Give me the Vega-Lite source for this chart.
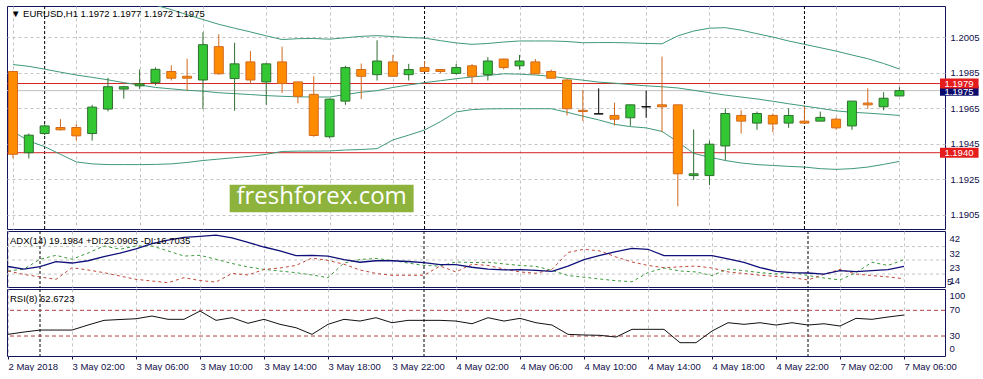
{
"$schema": "https://vega.github.io/schema/vega-lite/v6.json",
"background": "white",
"padding": {"left": 4, "top": 5, "right": 0, "bottom": 0},
"bounds": "flush",
"spacing": 2,
"config": {
  "view": {"stroke": "#14145a", "strokeWidth": 1},
  "font": "Liberation Sans",
  "axis": {"labelFont": "Liberation Sans", "labelFontSize": 9.5, "labelColor": "#10104a", "gridColor": "#c4c4c4", "gridDash": [3, 3], "gridWidth": 1, "domain": false, "ticks": false, "labelOverlap": false, "labelBound": false},
  "title": {"font": "Liberation Sans", "fontSize": 9.5, "fontWeight": "normal", "color": "#000000", "anchor": "start", "frame": "group"}
},
"datasets": {
  "seps": [{"i": 2}, {"i": 26}, {"i": 50}],
  "levels": [{"p": 1.1979, "lab": "1.1979"}, {"p": 1.194, "lab": "1.1940"}],
  "bid": [{"p": 1.1975, "lab": "1.1975"}],
  "candles": [
    {"i":0,"o":1.19858,"h":1.19862,"l":1.19369,"c":1.19391},
    {"i":1,"o":1.194,"h":1.19508,"l":1.19368,"c":1.19499},
    {"i":2,"o":1.19508,"h":1.1956,"l":1.195,"c":1.19551},
    {"i":3,"o":1.19542,"h":1.19589,"l":1.19525,"c":1.19529},
    {"i":4,"o":1.19542,"h":1.19562,"l":1.19468,"c":1.19495},
    {"i":5,"o":1.19508,"h":1.1967,"l":1.19468,"c":1.19657},
    {"i":6,"o":1.19646,"h":1.19822,"l":1.19633,"c":1.19772},
    {"i":7,"o":1.19759,"h":1.19777,"l":1.19705,"c":1.19772},
    {"i":8,"o":1.19777,"h":1.1987,"l":1.19759,"c":1.19788},
    {"i":9,"o":1.19795,"h":1.19881,"l":1.1978,"c":1.1987},
    {"i":10,"o":1.19858,"h":1.19892,"l":1.19807,"c":1.1982},
    {"i":11,"o":1.19831,"h":1.1993,"l":1.1975,"c":1.1982},
    {"i":12,"o":1.1981,"h":1.20079,"l":1.19646,"c":1.20009},
    {"i":13,"o":1.19998,"h":1.20068,"l":1.1984,"c":1.19845},
    {"i":14,"o":1.19818,"h":1.2002,"l":1.19637,"c":1.19901},
    {"i":15,"o":1.19912,"h":1.19973,"l":1.1979,"c":1.1981},
    {"i":16,"o":1.19799,"h":1.19905,"l":1.1967,"c":1.19901},
    {"i":17,"o":1.19912,"h":1.19998,"l":1.19737,"c":1.1979},
    {"i":18,"o":1.19799,"h":1.198,"l":1.19678,"c":1.19718},
    {"i":19,"o":1.19729,"h":1.19831,"l":1.1949,"c":1.19497},
    {"i":20,"o":1.1949,"h":1.19705,"l":1.19481,"c":1.19702},
    {"i":21,"o":1.19691,"h":1.1989,"l":1.1967,"c":1.1988},
    {"i":22,"o":1.19869,"h":1.19903,"l":1.19702,"c":1.19831},
    {"i":23,"o":1.1984,"h":1.20034,"l":1.19807,"c":1.19917},
    {"i":24,"o":1.19912,"h":1.19951,"l":1.1983,"c":1.19831},
    {"i":25,"o":1.1984,"h":1.19901,"l":1.19807,"c":1.19869},
    {"i":26,"o":1.1988,"h":1.19917,"l":1.19855,"c":1.19858},
    {"i":27,"o":1.19869,"h":1.1987,"l":1.19849,"c":1.19858},
    {"i":28,"o":1.19847,"h":1.19901,"l":1.1984,"c":1.1988},
    {"i":29,"o":1.1989,"h":1.199,"l":1.1979,"c":1.19831},
    {"i":30,"o":1.1984,"h":1.19939,"l":1.19807,"c":1.19917},
    {"i":31,"o":1.19928,"h":1.1993,"l":1.19869,"c":1.1988},
    {"i":32,"o":1.1989,"h":1.19951,"l":1.19869,"c":1.19917},
    {"i":33,"o":1.19912,"h":1.19928,"l":1.19843,"c":1.19845},
    {"i":34,"o":1.19858,"h":1.19869,"l":1.1982,"c":1.1982},
    {"i":35,"o":1.1981,"h":1.19817,"l":1.1961,"c":1.19648},
    {"i":36,"o":1.19639,"h":1.19754,"l":1.19579,"c":1.19632},
    {"i":37,"o":1.19619,"h":1.19763,"l":1.19619,"c":1.19619},
    {"i":38,"o":1.1961,"h":1.19682,"l":1.19553,"c":1.19589},
    {"i":39,"o":1.19597,"h":1.1967,"l":1.19551,"c":1.1967},
    {"i":40,"o":1.19659,"h":1.1975,"l":1.19597,"c":1.19659},
    {"i":41,"o":1.1967,"h":1.19942,"l":1.19516,"c":1.19659},
    {"i":42,"o":1.1967,"h":1.1967,"l":1.19098,"c":1.19281},
    {"i":43,"o":1.19271,"h":1.19531,"l":1.19247,"c":1.19281},
    {"i":44,"o":1.19271,"h":1.19468,"l":1.19217,"c":1.19448},
    {"i":45,"o":1.19438,"h":1.1965,"l":1.19357,"c":1.19621},
    {"i":46,"o":1.1961,"h":1.19639,"l":1.19508,"c":1.19578},
    {"i":47,"o":1.19567,"h":1.19632,"l":1.19529,"c":1.19621},
    {"i":48,"o":1.1961,"h":1.19621,"l":1.19516,"c":1.19562},
    {"i":49,"o":1.19567,"h":1.1965,"l":1.1954,"c":1.1961},
    {"i":50,"o":1.19578,"h":1.19659,"l":1.19567,"c":1.19567},
    {"i":51,"o":1.19578,"h":1.19632,"l":1.19578,"c":1.19599},
    {"i":52,"o":1.19589,"h":1.19599,"l":1.19529,"c":1.1954},
    {"i":53,"o":1.19551,"h":1.19691,"l":1.19529,"c":1.19691},
    {"i":54,"o":1.1968,"h":1.19763,"l":1.19648,"c":1.1967},
    {"i":55,"o":1.19659,"h":1.19741,"l":1.19639,"c":1.19707},
    {"i":56,"o":1.1972,"h":1.1977,"l":1.1972,"c":1.1975}
  ],
  "bb": [
    {"i":0,"mid":1.19897,"lo":1.1952},{"i":1,"mid":1.19887,"lo":1.19466},{"i":2,"mid":1.19871,"lo":1.19434},{"i":3,"mid":1.19854,"lo":1.19391},
    {"i":4,"mid":1.19838,"lo":1.19348},{"i":5,"mid":1.19825,"lo":1.19337},{"i":6,"mid":1.19811,"lo":1.19333},{"i":7,"mid":1.19795,"lo":1.19333},
    {"i":8,"up":1.20253,"mid":1.19782,"lo":1.19333},{"i":9,"up":1.20232,"mid":1.19768,"lo":1.19334},{"i":10,"up":1.20207,"mid":1.1976,"lo":1.19337},
    {"i":11,"up":1.20178,"mid":1.19752,"lo":1.19345},{"i":12,"up":1.20151,"mid":1.19747,"lo":1.19356},{"i":13,"up":1.20124,"mid":1.19738,"lo":1.19364},
    {"i":14,"up":1.20102,"mid":1.19733,"lo":1.19372},{"i":15,"up":1.20081,"mid":1.19728,"lo":1.1938},{"i":16,"up":1.20059,"mid":1.19722,"lo":1.19391},
    {"i":17,"up":1.20038,"mid":1.19718,"lo":1.19407},{"i":18,"up":1.20043,"mid":1.19715,"lo":1.19409},{"i":19,"up":1.20044,"mid":1.19714,"lo":1.19409},
    {"i":20,"up":1.2004,"mid":1.19714,"lo":1.1941},{"i":21,"up":1.20048,"mid":1.19728,"lo":1.19415},{"i":22,"up":1.20056,"mid":1.19741,"lo":1.19418},
    {"i":23,"up":1.2006,"mid":1.1975,"lo":1.19423},{"i":24,"up":1.20055,"mid":1.19768,"lo":1.19472},{"i":25,"up":1.20049,"mid":1.19782,"lo":1.19499},
    {"i":26,"up":1.20046,"mid":1.19795,"lo":1.19528},{"i":27,"up":1.20032,"mid":1.19806,"lo":1.19575},{"i":28,"up":1.20019,"mid":1.19817,"lo":1.1963},
    {"i":29,"up":1.20011,"mid":1.19827,"lo":1.19643},{"i":30,"up":1.20016,"mid":1.19835,"lo":1.19647},{"i":31,"up":1.20024,"mid":1.19845,"lo":1.19648},
    {"i":32,"up":1.2003,"mid":1.19843,"lo":1.19648},{"i":33,"up":1.2003,"mid":1.19838,"lo":1.19648},{"i":34,"up":1.2003,"mid":1.19831,"lo":1.19648},
    {"i":35,"up":1.20027,"mid":1.19819,"lo":1.19628},{"i":36,"up":1.2002,"mid":1.19809,"lo":1.19606},{"i":37,"up":1.20021,"mid":1.19798,"lo":1.19585},
    {"i":38,"up":1.20021,"mid":1.19792,"lo":1.1956},{"i":39,"up":1.20019,"mid":1.19784,"lo":1.19547},{"i":40,"up":1.20016,"mid":1.19777,"lo":1.1954},
    {"i":41,"up":1.20014,"mid":1.19772,"lo":1.1952},{"i":42,"up":1.20059,"mid":1.19765,"lo":1.19461},{"i":43,"up":1.20086,"mid":1.19752,"lo":1.19396},
    {"i":44,"up":1.20102,"mid":1.19738,"lo":1.19375},{"i":45,"up":1.20105,"mid":1.19725,"lo":1.19356},{"i":46,"up":1.20091,"mid":1.19714,"lo":1.19342},
    {"i":47,"up":1.20071,"mid":1.19703,"lo":1.19333},{"i":48,"up":1.20052,"mid":1.1969,"lo":1.19328},{"i":49,"up":1.2003,"mid":1.19676,"lo":1.19323},
    {"i":50,"up":1.20011,"mid":1.19663,"lo":1.19319},{"i":51,"up":1.19992,"mid":1.1965,"lo":1.1931},{"i":52,"up":1.19973,"mid":1.19636,"lo":1.19306},
    {"i":53,"up":1.19951,"mid":1.19628,"lo":1.1931},{"i":54,"up":1.1993,"mid":1.19623,"lo":1.19319},{"i":55,"up":1.19903,"mid":1.19617,"lo":1.19334},
    {"i":56,"up":1.19872,"mid":1.1961,"lo":1.19351}
  ],
  "adx": [
    {"i":0,"adx":23.8,"pdi":20.8,"mdi":20.8},{"i":1,"adx":22.1,"pdi":22.1,"mdi":18.5},{"i":2,"adx":23.7,"pdi":28.6,"mdi":16.9},
    {"i":3,"adx":27.0,"pdi":31.2,"mdi":15.3},{"i":4,"adx":26.1,"pdi":28.6,"mdi":23.0},{"i":5,"adx":27.6,"pdi":32.7,"mdi":21.5},
    {"i":6,"adx":30.4,"pdi":37.4,"mdi":19.7},{"i":7,"adx":32.7,"pdi":35.2,"mdi":17.5},{"i":8,"adx":35.4,"pdi":37.4,"mdi":15.3},
    {"i":9,"adx":39.0,"pdi":37.4,"mdi":14.2},{"i":10,"adx":41.3,"pdi":34.1,"mdi":13.1},{"i":11,"adx":43.1,"pdi":30.7,"mdi":16.4},
    {"i":12,"adx":43.8,"pdi":31.2,"mdi":14.5},{"i":13,"adx":44.6,"pdi":28.6,"mdi":13.5},{"i":14,"adx":42.7,"pdi":25.8,"mdi":19.2},
    {"i":15,"adx":39.7,"pdi":23.5,"mdi":18.2},{"i":16,"adx":36.7,"pdi":21.9,"mdi":21.8},{"i":17,"adx":34.1,"pdi":20.8,"mdi":22.8},
    {"i":18,"adx":31.0,"pdi":19.7,"mdi":24.5},{"i":19,"adx":31.2,"pdi":18.2,"mdi":29.4},{"i":20,"adx":30.7,"pdi":16.4,"mdi":27.8},
    {"i":21,"adx":28.4,"pdi":26.1,"mdi":25.3},{"i":22,"adx":26.6,"pdi":28.4,"mdi":21.5},{"i":23,"adx":27.6,"pdi":29.1,"mdi":19.2},
    {"i":24,"adx":27.6,"pdi":27.8,"mdi":18.0},{"i":25,"adx":27.1,"pdi":26.1,"mdi":18.0},{"i":26,"adx":26.4,"pdi":24.5,"mdi":18.0},
    {"i":27,"adx":25.0,"pdi":24.1,"mdi":24.1},{"i":28,"adx":25.0,"pdi":26.8,"mdi":20.2},{"i":29,"adx":23.3,"pdi":26.4,"mdi":25.3},
    {"i":30,"adx":22.1,"pdi":26.6,"mdi":24.5},{"i":31,"adx":21.5,"pdi":25.5,"mdi":22.1},{"i":32,"adx":21.7,"pdi":24.5,"mdi":20.2},
    {"i":33,"adx":21.2,"pdi":23.9,"mdi":19.3},{"i":34,"adx":20.6,"pdi":21.2,"mdi":21.9},{"i":35,"adx":24.1,"pdi":17.8,"mdi":33.1},
    {"i":36,"adx":28.4,"pdi":16.7,"mdi":35.2},{"i":37,"adx":31.1,"pdi":15.5,"mdi":34.1},{"i":38,"adx":33.6,"pdi":14.4,"mdi":30.1},
    {"i":39,"adx":35.8,"pdi":13.7,"mdi":26.8},{"i":40,"adx":35.2,"pdi":19.8,"mdi":24.5},{"i":41,"adx":31.0,"pdi":22.8,"mdi":23.0},
    {"i":42,"adx":31.0,"pdi":20.8,"mdi":23.6},{"i":43,"adx":31.0,"pdi":20.2,"mdi":24.1},{"i":44,"adx":31.0,"pdi":17.8,"mdi":22.8},
    {"i":45,"adx":28.8,"pdi":22.1,"mdi":20.2},{"i":46,"adx":26.6,"pdi":21.0,"mdi":19.2},{"i":47,"adx":23.1,"pdi":19.8,"mdi":18.0},
    {"i":48,"adx":20.6,"pdi":18.8,"mdi":17.2},{"i":49,"adx":19.8,"pdi":20.0,"mdi":16.4},{"i":50,"adx":19.5,"pdi":17.8,"mdi":14.9},
    {"i":51,"adx":18.8,"pdi":16.2,"mdi":18.6},{"i":52,"adx":21.0,"pdi":14.9,"mdi":21.9},{"i":53,"adx":20.4,"pdi":19.8,"mdi":18.8},
    {"i":54,"adx":21.0,"pdi":26.6,"mdi":17.8},{"i":55,"adx":21.7,"pdi":24.5,"mdi":16.9},{"i":56,"adx":23.9,"pdi":28.3,"mdi":15.7}
  ],
  "rsi": [
    {"i":0,"rsi":32.6},{"i":1,"rsi":36.2},{"i":2,"rsi":39.3},{"i":3,"rsi":39.3},{"i":4,"rsi":39.3},{"i":5,"rsi":47.1},
    {"i":6,"rsi":54.4},{"i":7,"rsi":55.7},{"i":8,"rsi":56.9},{"i":9,"rsi":61.1},{"i":10,"rsi":56.0},{"i":11,"rsi":56.0},
    {"i":12,"rsi":68.9},{"i":13,"rsi":54.4},{"i":14,"rsi":58.5},{"i":15,"rsi":49.8},{"i":16,"rsi":56.0},{"i":17,"rsi":48.2},
    {"i":18,"rsi":42.9},{"i":19,"rsi":32.6},{"i":20,"rsi":48.2},{"i":21,"rsi":56.0},{"i":22,"rsi":53.3},{"i":23,"rsi":58.5},
    {"i":24,"rsi":50.7},{"i":25,"rsi":54.4},{"i":26,"rsi":54.4},{"i":27,"rsi":54.4},{"i":28,"rsi":53.3},{"i":29,"rsi":49.1},
    {"i":30,"rsi":58.5},{"i":31,"rsi":53.3},{"i":32,"rsi":57.5},{"i":33,"rsi":50.7},{"i":34,"rsi":47.1},{"i":35,"rsi":32.6},
    {"i":36,"rsi":31.6},{"i":37,"rsi":31.1},{"i":38,"rsi":28.4},{"i":39,"rsi":40.4},{"i":40,"rsi":40.4},{"i":41,"rsi":40.4},
    {"i":42,"rsi":19.6},{"i":43,"rsi":19.6},{"i":44,"rsi":37.8},{"i":45,"rsi":50.7},{"i":46,"rsi":48.2},{"i":47,"rsi":50.7},
    {"i":48,"rsi":47.1},{"i":49,"rsi":50.7},{"i":50,"rsi":47.1},{"i":51,"rsi":49.1},{"i":52,"rsi":45.6},{"i":53,"rsi":57.5},
    {"i":54,"rsi":56.0},{"i":55,"rsi":59.6},{"i":56,"rsi":62.7}
  ]
},
"vconcat": [
  {
    "width": 938, "height": 223,
    "title": {"text": "▼  EURUSD,H1  1.1972 1.1977 1.1972 1.1975", "offset": -13, "dx": 4},
    "layer": [
      {"data": {"name": "seps"}, "mark": {"type": "rule", "color": "#000000", "strokeDash": [3, 2], "strokeWidth": 1},
       "encoding": {"x": {"field": "i", "type": "quantitative", "title": null, "scale": {"domain": [-0.0625, 58.5625], "nice": false, "zero": false}, "axis": {"values": [0,2,4,6,8,10,12,14,16,18,20,22,24,26,28,30,32,34,36,38,40,42,44,46,48,50,52,54,56], "labels": false, "grid": true}}}},
      {"data": {"name": "bid"}, "mark": {"type": "rule", "color": "#c0c0c0", "strokeWidth": 1},
       "encoding": {"y": {"field": "p", "type": "quantitative", "title": null, "scale": {"domain": [1.18998, 1.20199], "nice": false, "zero": false}, "axis": {"orient": "right", "values": [1.1905, 1.1925, 1.1945, 1.1965, 1.1985, 1.2005], "format": ".4f", "grid": true, "labelPadding": 5, "labelOverlap": false}}}},
      {"data": {"name": "levels"}, "mark": {"type": "rule", "color": "#d42222", "strokeWidth": 1},
       "encoding": {"y": {"field": "p", "type": "quantitative", "title": null, "scale": {"domain": [1.18998, 1.20199], "nice": false, "zero": false}}}},
      {"data": {"name": "bb"}, "mark": {"type": "line", "color": "#3f9a78", "strokeWidth": 1, "clip": true},
       "encoding": {"x": {"field": "i", "type": "quantitative", "title": null, "scale": {"domain": [-0.0625, 58.5625], "nice": false, "zero": false}},
                    "y": {"field": "up", "type": "quantitative", "title": null, "scale": {"domain": [1.18998, 1.20199], "nice": false, "zero": false}}}},
      {"data": {"name": "bb"}, "mark": {"type": "line", "color": "#3f9a78", "strokeWidth": 1, "clip": true},
       "encoding": {"x": {"field": "i", "type": "quantitative", "title": null, "scale": {"domain": [-0.0625, 58.5625], "nice": false, "zero": false}},
                    "y": {"field": "mid", "type": "quantitative", "title": null, "scale": {"domain": [1.18998, 1.20199], "nice": false, "zero": false}}}},
      {"data": {"name": "bb"}, "mark": {"type": "line", "color": "#3f9a78", "strokeWidth": 1, "clip": true},
       "encoding": {"x": {"field": "i", "type": "quantitative", "title": null, "scale": {"domain": [-0.0625, 58.5625], "nice": false, "zero": false}},
                    "y": {"field": "lo", "type": "quantitative", "title": null, "scale": {"domain": [1.18998, 1.20199], "nice": false, "zero": false}}}},
      {"data": {"values": [{"t": "freshforex.com"}]}, "mark": {"type": "rect", "color": "#8db33d"},
       "encoding": {"x": {"datum": 13.69, "type": "quantitative", "title": null, "scale": {"domain": [-0.0625, 58.5625], "nice": false, "zero": false}},
                    "x2": {"datum": 25.31},
                    "y": {"datum": 1.1922, "type": "quantitative", "title": null, "scale": {"domain": [1.18998, 1.20199], "nice": false, "zero": false}},
                    "y2": {"datum": 1.19064}}},
      {"data": {"values": [{"t": "freshforex.com"}]}, "mark": {"type": "text", "color": "#ffffff", "font": "Open Sans", "fontSize": 24, "align": "center", "baseline": "middle", "dy": -1},
       "encoding": {"x": {"datum": 19.5, "type": "quantitative", "title": null, "scale": {"domain": [-0.0625, 58.5625], "nice": false, "zero": false}},
                    "y": {"datum": 1.19142, "type": "quantitative", "title": null, "scale": {"domain": [1.18998, 1.20199], "nice": false, "zero": false}},
                    "text": {"field": "t"}}},
      {"data": {"name": "candles"}, "mark": {"type": "rule", "strokeWidth": 1},
       "encoding": {"x": {"field": "i", "type": "quantitative", "title": null, "scale": {"domain": [-0.0625, 58.5625], "nice": false, "zero": false}},
                    "y": {"field": "l", "type": "quantitative", "title": null, "scale": {"domain": [1.18998, 1.20199], "nice": false, "zero": false}},
                    "y2": {"field": "h"},
                    "color": {"condition": [{"test": "datum.c == datum.o", "value": "#000000"}, {"test": "datum.c > datum.o", "value": "#2f6f2f"}], "value": "#d2691e"}}},
      {"data": {"name": "candles"}, "mark": {"type": "bar", "size": 9, "strokeWidth": 1, "orient": "vertical"},
       "encoding": {"x": {"field": "i", "type": "quantitative", "title": null, "scale": {"domain": [-0.0625, 58.5625], "nice": false, "zero": false}},
                    "y": {"field": "o", "type": "quantitative", "title": null, "scale": {"domain": [1.18998, 1.20199], "nice": false, "zero": false}},
                    "y2": {"field": "c"},
                    "fill": {"condition": [{"test": "datum.c == datum.o", "value": "#000000"}, {"test": "datum.c > datum.o", "value": "#33c733"}], "value": "#ff8c00"},
                    "stroke": {"condition": [{"test": "datum.c == datum.o", "value": "#000000"}, {"test": "datum.c > datum.o", "value": "#2f6f2f"}], "value": "#d2691e"}}},
      {"data": {"name": "bid"}, "mark": {"type": "bar", "orient": "horizontal", "size": 10, "color": "#0b0b6b"},
       "encoding": {"x": {"datum": 58.5625, "type": "quantitative", "title": null, "scale": {"domain": [-0.0625, 58.5625], "nice": false, "zero": false}},
                    "x2": {"datum": 61.0},
                    "y": {"field": "p", "type": "quantitative", "title": null, "scale": {"domain": [1.18998, 1.20199], "nice": false, "zero": false}}}},
      {"data": {"name": "bid"}, "mark": {"type": "text", "color": "#ffffff", "align": "left", "baseline": "middle", "fontSize": 9.5, "font": "Liberation Sans", "dy": 1},
       "encoding": {"x": {"datum": 58.84, "type": "quantitative", "title": null, "scale": {"domain": [-0.0625, 58.5625], "nice": false, "zero": false}},
                    "y": {"field": "p", "type": "quantitative", "title": null, "scale": {"domain": [1.18998, 1.20199], "nice": false, "zero": false}},
                    "text": {"field": "lab"}}},
      {"data": {"name": "levels"}, "mark": {"type": "bar", "orient": "horizontal", "size": 10, "color": "#e41c1c"},
       "encoding": {"x": {"datum": 58.5625, "type": "quantitative", "title": null, "scale": {"domain": [-0.0625, 58.5625], "nice": false, "zero": false}},
                    "x2": {"datum": 61.0},
                    "y": {"field": "p", "type": "quantitative", "title": null, "scale": {"domain": [1.18998, 1.20199], "nice": false, "zero": false}}}},
      {"data": {"name": "levels"}, "mark": {"type": "text", "color": "#ffffff", "align": "left", "baseline": "middle", "fontSize": 9.5, "font": "Liberation Sans"},
       "encoding": {"x": {"datum": 58.84, "type": "quantitative", "title": null, "scale": {"domain": [-0.0625, 58.5625], "nice": false, "zero": false}},
                    "y": {"field": "p", "type": "quantitative", "title": null, "scale": {"domain": [1.18998, 1.20199], "nice": false, "zero": false}},
                    "text": {"field": "lab"}}}
    ]
  },
  {
    "width": 938, "height": 56,
    "title": {"text": "ADX(14) 19.1984 +DI:23.0905 -DI:16.7035", "offset": -15, "dx": 3},
    "layer": [
      {"data": {"name": "seps"}, "mark": {"type": "rule", "color": "#000000", "strokeDash": [3, 2], "strokeWidth": 1},
       "encoding": {"x": {"field": "i", "type": "quantitative", "title": null, "scale": {"domain": [-0.0625, 58.5625], "nice": false, "zero": false}, "axis": {"values": [0,2,4,6,8,10,12,14,16,18,20,22,24,26,28,30,32,34,36,38,40,42,44,46,48,50,52,54,56], "labels": false, "grid": true}}}},
      {"data": {"values": [{"g": 37.0}, {"g": 28.1}, {"g": 18.8}]}, "mark": {"type": "rule", "color": "#c4c4c4", "strokeDash": [3, 3], "strokeWidth": 1},
       "encoding": {"y": {"field": "g", "type": "quantitative", "title": null, "scale": {"domain": [10.23, 47.29], "nice": false, "zero": false}, "axis": null}}},
      {"data": {"name": "adx"}, "mark": {"type": "line", "color": "#3c9a3c", "strokeWidth": 1, "strokeDash": [3, 3]},
       "encoding": {"x": {"field": "i", "type": "quantitative", "title": null, "scale": {"domain": [-0.0625, 58.5625], "nice": false, "zero": false}},
                    "y": {"field": "pdi", "type": "quantitative", "title": null, "scale": {"domain": [10.23, 47.29], "nice": false, "zero": false}, "axis": null}}},
      {"data": {"name": "adx"}, "mark": {"type": "line", "color": "#c0483a", "strokeWidth": 1, "strokeDash": [3, 3]},
       "encoding": {"x": {"field": "i", "type": "quantitative", "title": null, "scale": {"domain": [-0.0625, 58.5625], "nice": false, "zero": false}},
                    "y": {"field": "mdi", "type": "quantitative", "title": null, "scale": {"domain": [10.23, 47.29], "nice": false, "zero": false}, "axis": null}}},
      {"data": {"name": "adx"}, "mark": {"type": "line", "color": "#10107a", "strokeWidth": 1.3},
       "encoding": {"x": {"field": "i", "type": "quantitative", "title": null, "scale": {"domain": [-0.0625, 58.5625], "nice": false, "zero": false}},
                    "y": {"field": "adx", "type": "quantitative", "title": null, "scale": {"domain": [10.23, 47.29], "nice": false, "zero": false}, "axis": null}}},
      {"data": {"values": [{"v": 42}, {"v": 32}, {"v": 23}, {"v": 14}]}, "mark": {"type": "text", "color": "#10104a", "align": "left", "baseline": "middle", "fontSize": 9.5, "font": "Liberation Sans"},
       "encoding": {"x": {"datum": 58.84, "type": "quantitative", "title": null, "scale": {"domain": [-0.0625, 58.5625], "nice": false, "zero": false}},
                    "y": {"field": "v", "type": "quantitative", "title": null, "scale": {"domain": [10.23, 47.29], "nice": false, "zero": false}, "axis": null},
                    "text": {"field": "v"}}},
      {"data": {"values": [{"t": "5"}]}, "mark": {"type": "text", "color": "#10104a", "align": "left", "baseline": "middle", "fontSize": 9.5, "font": "Liberation Sans"},
       "encoding": {"x": {"datum": 58.68, "type": "quantitative", "title": null, "scale": {"domain": [-0.0625, 58.5625], "nice": false, "zero": false}},
                    "y": {"datum": 13.6, "type": "quantitative", "title": null, "scale": {"domain": [10.23, 47.29], "nice": false, "zero": false}, "axis": null},
                    "text": {"field": "t"}}}
    ]
  },
  {
    "width": 938, "height": 67,
    "title": {"text": "RSI(8) 62.6723", "offset": -15, "dx": 3},
    "layer": [
      {"data": {"name": "seps"}, "mark": {"type": "rule", "color": "#000000", "strokeDash": [3, 2], "strokeWidth": 1},
       "encoding": {"x": {"field": "i", "type": "quantitative", "title": null, "scale": {"domain": [-0.0625, 58.5625], "nice": false, "zero": false},
         "axis": {"values": [0,2,4,6,8,10,12,14,16,18,20,22,24,26,28,30,32,34,36,38,40,42,44,46,48,50,52,54,56], "grid": true, "ticks": true, "tickSize": 3, "tickColor": "#10104a", "labelAlign": "left", "labelBaseline": "top", "labelPadding": 2, "labelOverlap": false, "labelFlush": false,
           "labelExpr": "datum.value % 4 == 0 ? ['2 May 2018','3 May 02:00','3 May 06:00','3 May 10:00','3 May 14:00','3 May 18:00','3 May 22:00','4 May 02:00','4 May 06:00','4 May 10:00','4 May 14:00','4 May 18:00','4 May 22:00','7 May 02:00','7 May 06:00'][datum.value / 4] : ''"}}}},
      {"data": {"values": [{"lv": 70}, {"lv": 30}]}, "mark": {"type": "rule", "color": "#b04040", "strokeDash": [4, 3], "strokeWidth": 1},
       "encoding": {"y": {"field": "lv", "type": "quantitative", "title": null, "scale": {"domain": [-1.1, 103.2], "nice": false, "zero": false}, "axis": null}}},
      {"data": {"name": "rsi"}, "mark": {"type": "line", "color": "#111111", "strokeWidth": 1},
       "encoding": {"x": {"field": "i", "type": "quantitative", "title": null, "scale": {"domain": [-0.0625, 58.5625], "nice": false, "zero": false}},
                    "y": {"field": "rsi", "type": "quantitative", "title": null, "scale": {"domain": [-1.1, 103.2], "nice": false, "zero": false}, "axis": null}}},
      {"data": {"values": [{"v": 70}, {"v": 30}]}, "mark": {"type": "text", "color": "#10104a", "align": "left", "baseline": "middle", "fontSize": 9.5, "font": "Liberation Sans"},
       "encoding": {"x": {"datum": 58.84, "type": "quantitative", "title": null, "scale": {"domain": [-0.0625, 58.5625], "nice": false, "zero": false}},
                    "y": {"field": "v", "type": "quantitative", "title": null, "scale": {"domain": [-1.1, 103.2], "nice": false, "zero": false}, "axis": null},
                    "text": {"field": "v"}}},
      {"data": {"values": [{"v": 100}]}, "mark": {"type": "text", "color": "#10104a", "align": "left", "baseline": "middle", "fontSize": 9.5, "font": "Liberation Sans", "dy": 5},
       "encoding": {"x": {"datum": 58.84, "type": "quantitative", "title": null, "scale": {"domain": [-0.0625, 58.5625], "nice": false, "zero": false}},
                    "y": {"field": "v", "type": "quantitative", "title": null, "scale": {"domain": [-1.1, 103.2], "nice": false, "zero": false}, "axis": null},
                    "text": {"field": "v"}}},
      {"data": {"values": [{"v": 0}]}, "mark": {"type": "text", "color": "#10104a", "align": "left", "baseline": "middle", "fontSize": 9.5, "font": "Liberation Sans", "dy": -6},
       "encoding": {"x": {"datum": 58.84, "type": "quantitative", "title": null, "scale": {"domain": [-0.0625, 58.5625], "nice": false, "zero": false}},
                    "y": {"field": "v", "type": "quantitative", "title": null, "scale": {"domain": [-1.1, 103.2], "nice": false, "zero": false}, "axis": null},
                    "text": {"field": "v"}}}
    ]
  }
]
}
